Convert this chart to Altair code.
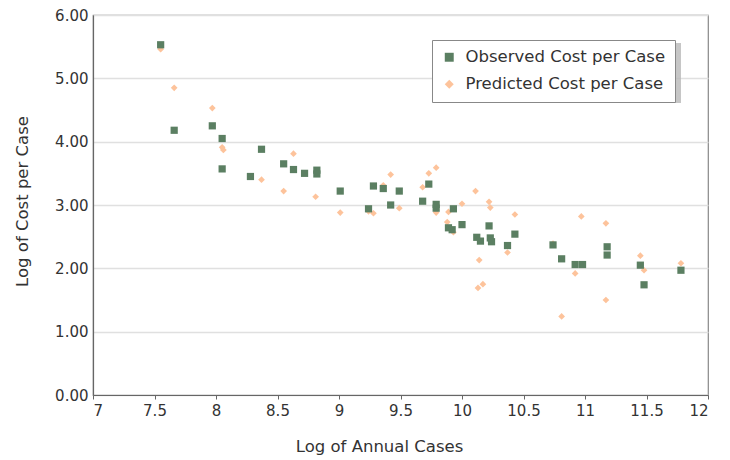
import altair as alt
import pandas as pd

# Observed cost per case (log) vs log annual cases
obs_x = [7.55, 7.66, 7.97, 8.05, 8.05, 8.28, 8.37, 8.55, 8.63, 8.72, 8.82, 8.82,
         9.01, 9.24, 9.28, 9.36, 9.42, 9.49, 9.68, 9.73, 9.79, 9.79, 9.89, 9.92,
         9.93, 10.00, 10.12, 10.15, 10.22, 10.23, 10.24, 10.37, 10.43, 10.74,
         10.81, 10.92, 10.98, 11.18, 11.18, 11.45, 11.48, 11.78]
obs_y = [5.53, 4.18, 4.25, 4.05, 3.57, 3.45, 3.88, 3.65, 3.56, 3.50, 3.55, 3.49,
         3.22, 2.94, 3.30, 3.26, 3.00, 3.22, 3.06, 3.33, 3.01, 2.95, 2.64, 2.61,
         2.94, 2.69, 2.49, 2.43, 2.67, 2.48, 2.42, 2.36, 2.54, 2.37,
         2.15, 2.06, 2.06, 2.34, 2.21, 2.05, 1.74, 1.97]

# Predicted cost per case
pred_x = [7.55, 7.66, 7.97, 8.05, 8.06, 8.37, 8.55, 8.63, 8.81, 9.01, 9.24, 9.28,
          9.36, 9.42, 9.49, 9.68, 9.73, 9.79, 9.79, 9.89, 9.88, 9.93, 10.00, 10.11,
          10.13, 10.14, 10.17, 10.22, 10.23, 10.37, 10.43, 10.74, 10.81, 10.92,
          10.97, 11.17, 11.17, 11.45, 11.48, 11.78]
pred_y = [5.46, 4.85, 4.53, 3.91, 3.87, 3.40, 3.22, 3.81, 3.13, 2.88, 2.90, 2.87,
          3.31, 3.48, 2.95, 3.28, 3.50, 3.59, 2.88, 2.89, 2.73, 2.57, 3.02, 3.22,
          1.69, 2.13, 1.75, 3.05, 2.96, 2.25, 2.85, 2.39, 1.24, 1.92,
          2.82, 2.71, 1.50, 2.20, 1.97, 2.08]

series_names = ["Observed Cost per Case", "Predicted Cost per Case"]
series_colors = ["#5b7f62", "#fdc39b"]
series_shapes = ["square", "diamond"]

obs = pd.DataFrame({"x": obs_x, "y": obs_y, "series": series_names[0]})
pred = pd.DataFrame({"x": pred_x, "y": pred_y, "series": series_names[1]})

FONT = "DejaVu Sans"

xenc = alt.X("x:Q", scale=alt.Scale(domain=[7, 12], nice=False, zero=False),
             axis=alt.Axis(title="Log of Annual Cases", values=[7, 7.5, 8, 8.5, 9, 9.5, 10, 10.5, 11, 11.5, 12],
                           format="~g", grid=False, tickSize=4, titlePadding=20,
                           titleX=286, labelPadding=4))
yenc = alt.Y("y:Q", scale=alt.Scale(domain=[0, 6], nice=False),
             axis=alt.Axis(title="Log of Cost per Case", values=[0, 1, 2, 3, 4, 5, 6],
                           format=".2f", grid=True, ticks=False, labelPadding=5,
                           titlePadding=24, titleY=186))
color = alt.Color("series:N", scale=alt.Scale(domain=series_names, range=series_colors),
                  legend=alt.Legend(title=None, orient="none", legendX=339, legendY=25))
shape = alt.Shape("series:N", scale=alt.Scale(domain=series_names, range=series_shapes))

shadow = alt.Chart(pd.DataFrame({"a": [0]})).mark_rect(color="#b8b8b8", opacity=0.8).encode(
    x=alt.value(342), x2=alt.value(588), y=alt.value(28), y2=alt.value(88))

pred_layer = alt.Chart(pred).mark_point(filled=True, opacity=1, size=45).encode(
    x=xenc, y=yenc, color=color, shape=shape)
obs_layer = alt.Chart(obs).mark_point(filled=True, opacity=1, size=52).encode(
    x=xenc, y=yenc, color=color, shape=shape)

chart = alt.layer(shadow, pred_layer, obs_layer).properties(
    width=615, height=380,
    autosize=alt.AutoSizeParams(type="none"),
    padding={"left": 85, "top": 7, "right": 5, "bottom": 62},
).configure_view(
    stroke="#888888", strokeWidth=1.2
).configure_axis(
    labelFont=FONT, titleFont=FONT, labelFontSize=15, titleFontSize=16.5,
    labelColor="#333333", titleColor="#333333", titleFontWeight="normal",
    domainColor="#666666", tickColor="#666666", gridColor="#e0e0e0", gridWidth=1.5,
    domainWidth=1.2
).configure_legend(
    labelFont=FONT, labelFontSize=16.5, labelColor="#333333",
    fillColor="white", strokeColor="#888888", padding=9,
    symbolSize=80, rowPadding=10, labelOffset=8, labelLimit=300,
    symbolStrokeWidth=0, cornerRadius=0
)

chart.save("out.html", embed_options={"renderer": "svg", "actions": False})
